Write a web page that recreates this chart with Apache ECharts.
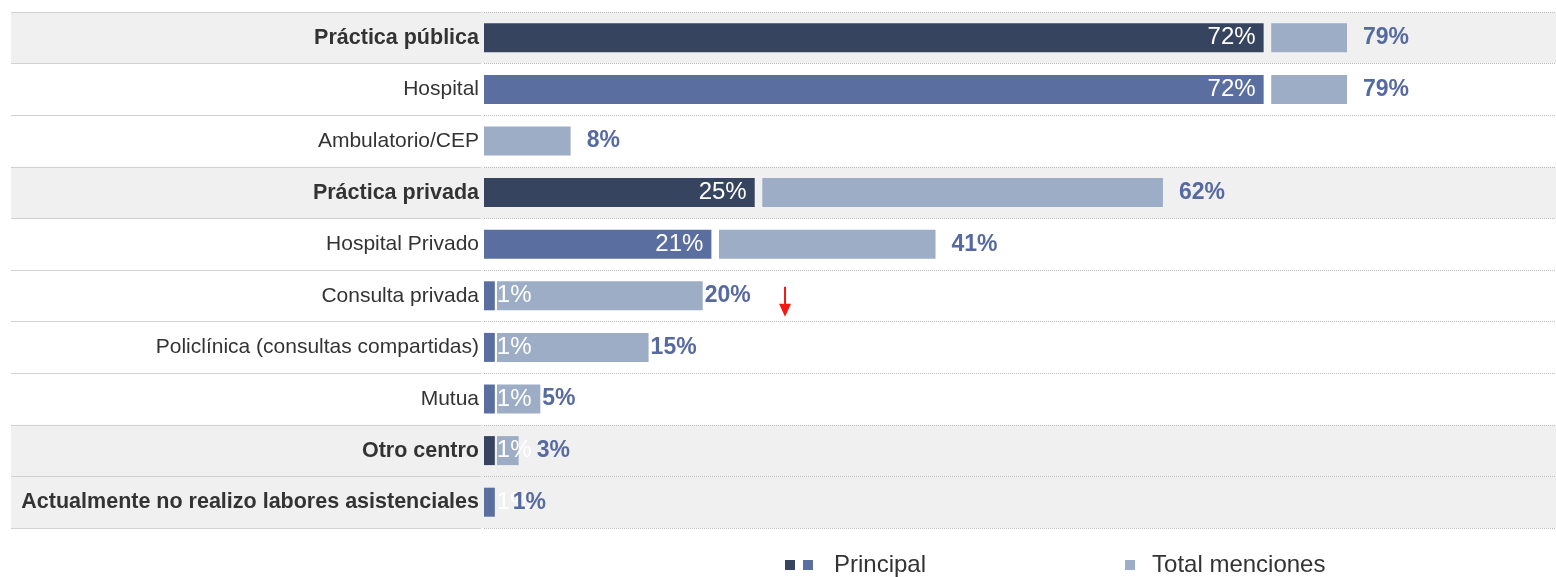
<!DOCTYPE html>
<html lang="es">
<head>
<meta charset="UTF-8">
<title>Centro de trabajo</title>
<script src="https://cdn.jsdelivr.net/npm/echarts@6/dist/echarts.min.js"></script>
<style>
  html, body { margin: 0; padding: 0; background: #fff; }
  #main { width: 1556px; height: 577px; }
</style>
</head>
<body>
<div id="main"></div>
<script>
// datos
var categories = ['Práctica pública', 'Hospital', 'Ambulatorio/CEP', 'Práctica privada', 'Hospital Privado',
    'Consulta privada', 'Policlínica (consultas compartidas)', 'Mutua', 'Otro centro',
    'Actualmente no realizo labores asistenciales'];
var principal = [72, 72, 0, 25, 21, 1, 1, 1, 1, 1];
var total = [79, 79, 8, 62, 41, 20, 15, 5, 3, 1];
// filas en negrita con fondo gris
var headers = ['Práctica pública', 'Práctica privada', 'Otro centro', 'Actualmente no realizo labores asistenciales'];
// filas cuya barra principal es oscura
var darkRows = ['Práctica pública', 'Práctica privada', 'Otro centro'];

var DARK = '#37445f', MID = '#5a6f9f', LIGHT = '#9eadc6', LABEL = '#5669a1';
var FONT = '"Liberation Sans", Arial, sans-serif';

var chart = echarts.init(document.getElementById('main'));

var bgData = categories.map(function (c) { return headers.indexOf(c) >= 0 ? 1 : 0; });

var principalData = categories.map(function (c, i) {
    var big = principal[i] >= 5;
    return {
        value: principal[i],
        itemStyle: { color: darkRows.indexOf(c) >= 0 ? DARK : MID },
        label: {
            show: principal[i] > 0,
            position: big ? 'insideRight' : 'right',
            distance: big ? 8 : 2
        }
    };
});

var gapData = categories.map(function (c, i) {
    var rest = total[i] - principal[i];
    if (principal[i] <= 0 || rest <= 0) return 0;
    return principal[i] >= 5 ? 0.7 : 0.2;
});

var restData = categories.map(function (c, i) {
    var rest = total[i] - principal[i];
    var d = 16;
    if (principal[i] > 0 && principal[i] < 5) d = rest >= 3 ? 2 : 18;
    return {
        value: rest,
        label: { distance: d }
    };
});

function svgIcon(body) {
    var svg = '<svg xmlns="http://www.w3.org/2000/svg" width="44" height="10" viewBox="0 0 44 10">' + body + '</svg>';
    return 'image://data:image/svg+xml;charset=utf-8,' + encodeURIComponent(svg);
}
var principalIcon = svgIcon('<rect x="0" y="0" width="10" height="10" fill="' + DARK + '"/>' +
    '<rect x="18" y="0" width="10" height="10" fill="' + MID + '"/>');
var totalIcon = svgIcon('<rect x="22" y="0" width="10" height="10" fill="' + LIGHT + '"/>');

var option = {
    animation: false,
    backgroundColor: '#ffffff',
    textStyle: { fontFamily: FONT },
    legend: {
        left: 780,
        top: 548,
        itemWidth: 44,
        itemHeight: 10,
        itemGap: 177,
        textStyle: { fontSize: 24, color: '#333', fontFamily: FONT },
        data: [
            { name: 'Principal', icon: principalIcon },
            { name: 'Total menciones', icon: totalIcon }
        ]
    },
    grid: [
        { left: 11, right: 0, top: 12, bottom: 49 },      // fondo
        { left: 11, width: 470, top: 12, bottom: 49 },    // líneas zona etiquetas
        { left: 484, right: 0, top: 12, bottom: 49 }      // barras
    ],
    xAxis: [
        { gridIndex: 0, type: 'value', min: 0, max: 1, show: false },
        { gridIndex: 1, type: 'value', min: 0, max: 1, show: false },
        { gridIndex: 2, type: 'value', min: 0, max: 99, show: false }
    ],
    yAxis: [
        {
            gridIndex: 0, type: 'category', inverse: true, data: categories,
            axisLine: { show: false }, axisTick: { show: false }, axisLabel: { show: false },
            splitLine: { show: false }
        },
        {
            gridIndex: 1, type: 'category', inverse: true, data: categories, z: 1,
            axisLine: { show: false }, axisTick: { show: false }, axisLabel: { show: false },
            splitLine: { show: true, lineStyle: { color: '#d2d2d2', width: 1, type: 'solid' } }
        },
        {
            gridIndex: 2, type: 'category', inverse: true, data: categories, z: 1,
            axisLine: { show: false }, axisTick: { show: false },
            splitLine: { show: true, lineStyle: { color: '#bdbdbd', width: 1, type: 'dotted' } },
            axisLabel: {
                margin: 5,
                formatter: function (v) {
                    return headers.indexOf(v) >= 0 ? '{b|' + v + '}' : '{n|' + v + '}';
                },
                rich: {
                    b: { fontSize: 21.5, fontWeight: 'bold', color: '#333', fontFamily: FONT },
                    n: { fontSize: 21, color: '#333', fontFamily: FONT }
                }
            }
        }
    ],
    series: [
        {
            name: 'fondo', type: 'bar', xAxisIndex: 0, yAxisIndex: 0, z: 0,
            silent: true, barWidth: '100%', data: bgData,
            itemStyle: { color: '#f0f0f0' }, label: { show: false }
        },
        {
            name: 'Principal', type: 'bar', xAxisIndex: 2, yAxisIndex: 2, stack: 'a',
            barWidth: 29, data: principalData,
            itemStyle: { color: MID },
            label: {
                color: '#fff', fontSize: 24, fontFamily: FONT,
                formatter: function (p) { return p.value + '%'; }
            },
            markPoint: {
                silent: true,
                data: [{
                    coord: [27.8, 'Consulta privada'],
                    symbol: 'path://M5,0 L7,0 L7,17 L12,17 L6,30 L0,17 L5,17 Z',
                    symbolSize: [12, 30],
                    symbolOffset: [0, 6],
                    itemStyle: { color: '#f01a12' },
                    label: { show: false }
                }]
            }
        },
        {
            name: 'gap', type: 'bar', xAxisIndex: 2, yAxisIndex: 2, stack: 'a',
            barWidth: 29, data: gapData, silent: true,
            itemStyle: { color: 'rgba(0,0,0,0)' }, label: { show: false }
        },
        {
            name: 'Total menciones', type: 'bar', xAxisIndex: 2, yAxisIndex: 2, stack: 'a',
            barWidth: 29, data: restData,
            itemStyle: { color: LIGHT },
            label: {
                show: true, position: 'right',
                color: LABEL, fontSize: 23, fontWeight: 'bold', fontFamily: FONT,
                formatter: function (p) { return total[p.dataIndex] + '%'; }
            }
        }
    ]
};

chart.setOption(option);
</script>
</body>
</html>
